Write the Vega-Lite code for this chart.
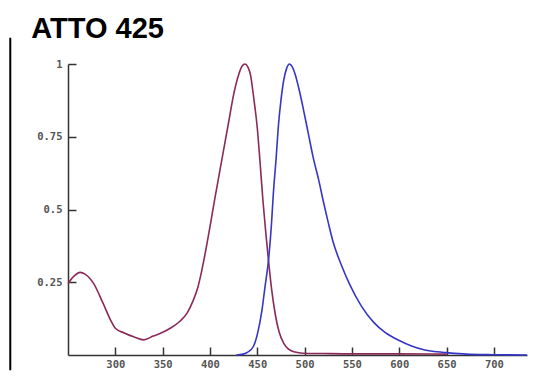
{
  "$schema": "https://vega.github.io/schema/vega-lite/v6.json",
  "width": 459,
  "height": 291,
  "autosize": "none",
  "padding": {"left": 68, "top": 64, "right": 21, "bottom": 23},
  "background": "white",
  "title": {"text": "ATTO 425", "anchor": "start", "font": "Liberation Sans", "fontSize": 29, "fontWeight": "bold", "color": "#000000", "dx": 22, "offset": 0, "dy": 30, "baseline": "alphabetic"},
  "config": {"view": {"stroke": null}},
  "datasets": {
    "spectra": [
      {"nm": 250, "v": 0.245, "s": "abs"},
      {"nm": 256, "v": 0.27, "s": "abs"},
      {"nm": 263, "v": 0.284, "s": "abs"},
      {"nm": 268, "v": 0.278, "s": "abs"},
      {"nm": 277, "v": 0.246, "s": "abs"},
      {"nm": 287, "v": 0.178, "s": "abs"},
      {"nm": 295, "v": 0.12, "s": "abs"},
      {"nm": 300, "v": 0.092, "s": "abs"},
      {"nm": 310, "v": 0.075, "s": "abs"},
      {"nm": 320, "v": 0.062, "s": "abs"},
      {"nm": 330, "v": 0.052, "s": "abs"},
      {"nm": 340, "v": 0.065, "s": "abs"},
      {"nm": 350, "v": 0.078, "s": "abs"},
      {"nm": 358, "v": 0.092, "s": "abs"},
      {"nm": 368, "v": 0.115, "s": "abs"},
      {"nm": 376, "v": 0.145, "s": "abs"},
      {"nm": 382, "v": 0.185, "s": "abs"},
      {"nm": 387, "v": 0.23, "s": "abs"},
      {"nm": 391, "v": 0.285, "s": "abs"},
      {"nm": 395, "v": 0.35, "s": "abs"},
      {"nm": 400, "v": 0.44, "s": "abs"},
      {"nm": 405, "v": 0.535, "s": "abs"},
      {"nm": 410, "v": 0.625, "s": "abs"},
      {"nm": 415, "v": 0.715, "s": "abs"},
      {"nm": 420, "v": 0.805, "s": "abs"},
      {"nm": 425, "v": 0.895, "s": "abs"},
      {"nm": 430, "v": 0.96, "s": "abs"},
      {"nm": 434, "v": 0.993, "s": "abs"},
      {"nm": 437, "v": 1.0, "s": "abs"},
      {"nm": 440, "v": 0.99, "s": "abs"},
      {"nm": 443, "v": 0.96, "s": "abs"},
      {"nm": 446, "v": 0.89, "s": "abs"},
      {"nm": 450, "v": 0.78, "s": "abs"},
      {"nm": 453, "v": 0.66, "s": "abs"},
      {"nm": 456, "v": 0.53, "s": "abs"},
      {"nm": 459, "v": 0.42, "s": "abs"},
      {"nm": 462, "v": 0.32, "s": "abs"},
      {"nm": 465, "v": 0.23, "s": "abs"},
      {"nm": 469, "v": 0.14, "s": "abs"},
      {"nm": 473, "v": 0.08, "s": "abs"},
      {"nm": 478, "v": 0.04, "s": "abs"},
      {"nm": 483, "v": 0.02, "s": "abs"},
      {"nm": 490, "v": 0.01, "s": "abs"},
      {"nm": 498, "v": 0.006, "s": "abs"},
      {"nm": 520, "v": 0.005, "s": "abs"},
      {"nm": 550, "v": 0.004, "s": "abs"},
      {"nm": 600, "v": 0.004, "s": "abs"},
      {"nm": 650, "v": 0.003, "s": "abs"},
      {"nm": 428, "v": 0.0, "s": "em"},
      {"nm": 435, "v": 0.003, "s": "em"},
      {"nm": 440, "v": 0.01, "s": "em"},
      {"nm": 446, "v": 0.03, "s": "em"},
      {"nm": 450, "v": 0.07, "s": "em"},
      {"nm": 455, "v": 0.155, "s": "em"},
      {"nm": 458, "v": 0.23, "s": "em"},
      {"nm": 462, "v": 0.33, "s": "em"},
      {"nm": 465, "v": 0.45, "s": "em"},
      {"nm": 467, "v": 0.556, "s": "em"},
      {"nm": 470, "v": 0.68, "s": "em"},
      {"nm": 472, "v": 0.775, "s": "em"},
      {"nm": 475, "v": 0.875, "s": "em"},
      {"nm": 478, "v": 0.945, "s": "em"},
      {"nm": 481, "v": 0.985, "s": "em"},
      {"nm": 484, "v": 1.0, "s": "em"},
      {"nm": 487, "v": 0.99, "s": "em"},
      {"nm": 490, "v": 0.965, "s": "em"},
      {"nm": 494, "v": 0.915, "s": "em"},
      {"nm": 499, "v": 0.84, "s": "em"},
      {"nm": 504, "v": 0.76, "s": "em"},
      {"nm": 509, "v": 0.68, "s": "em"},
      {"nm": 515, "v": 0.60, "s": "em"},
      {"nm": 520, "v": 0.525, "s": "em"},
      {"nm": 525, "v": 0.455, "s": "em"},
      {"nm": 530, "v": 0.39, "s": "em"},
      {"nm": 540, "v": 0.30, "s": "em"},
      {"nm": 548, "v": 0.24, "s": "em"},
      {"nm": 560, "v": 0.168, "s": "em"},
      {"nm": 573, "v": 0.112, "s": "em"},
      {"nm": 585, "v": 0.078, "s": "em"},
      {"nm": 600, "v": 0.05, "s": "em"},
      {"nm": 613, "v": 0.031, "s": "em"},
      {"nm": 626, "v": 0.018, "s": "em"},
      {"nm": 640, "v": 0.011, "s": "em"},
      {"nm": 650, "v": 0.008, "s": "em"},
      {"nm": 671, "v": 0.003, "s": "em"},
      {"nm": 700, "v": 0.001, "s": "em"},
      {"nm": 735, "v": 0.0, "s": "em"}
    ],
    "frame": [{"x": 189, "y": -0.052, "y2": 1.09}]
  },
  "layer": [
    {
      "data": {"name": "frame"},
      "mark": {"type": "rule", "color": "#000000", "strokeWidth": 2, "clip": false},
      "encoding": {
        "x": {"field": "x", "type": "quantitative", "scale": {"domain": [250, 735], "nice": false, "zero": false}},
        "y": {"field": "y", "type": "quantitative", "scale": {"domain": [0, 1], "nice": false}},
        "y2": {"field": "y2"}
      }
    },
    {
      "data": {"name": "spectra"},
      "mark": {"type": "line", "strokeWidth": 1.6, "interpolate": "monotone"},
      "encoding": {
        "x": {"field": "nm", "type": "quantitative",
          "scale": {"domain": [250, 735], "nice": false, "zero": false},
          "axis": {"title": null, "values": [300, 350, 400, 450, 500, 550, 600, 650, 700], "grid": false, "format": "d",
            "domainColor": "#333333", "domainWidth": 1.5, "tickColor": "#333333", "tickWidth": 1.5, "tickSize": -8,
            "labelFont": "DejaVu Sans Mono", "labelFontSize": 10.5, "labelFontWeight": "bold", "labelColor": "#555555", "labelPadding": 12}},
        "y": {"field": "v", "type": "quantitative",
          "scale": {"domain": [0, 1], "nice": false},
          "axis": {"title": null, "values": [0.25, 0.5, 0.75, 1], "grid": false, "labelExpr": "toString(datum.value)",
            "domainColor": "#333333", "domainWidth": 1.5, "tickColor": "#333333", "tickWidth": 1.5, "tickSize": -8,
            "labelFont": "DejaVu Sans Mono", "labelFontSize": 10.5, "labelFontWeight": "bold", "labelColor": "#555555", "labelPadding": 14}},
        "color": {"field": "s", "type": "nominal", "legend": null,
          "scale": {"domain": ["abs", "em"], "range": ["#8b2a58", "#3636c8"]}},
        "detail": {"field": "s"}
      }
    }
  ]
}
